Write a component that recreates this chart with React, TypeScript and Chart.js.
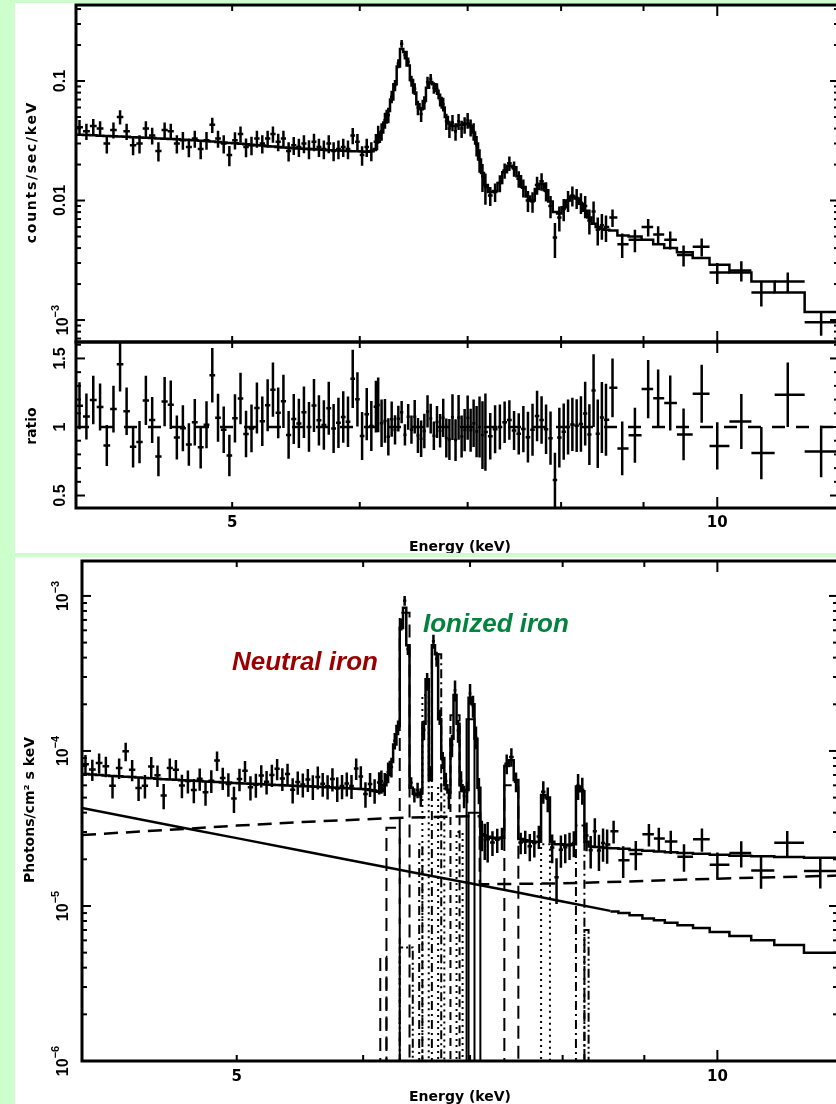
import React, { useEffect, useRef } from "react";
import { Chart, registerables } from "chart.js";

Chart.register(...registerables);

// ---------------- data ----------------
const X_MIN = 4.0;
const X_MAX = 11.9;

// bin centres (keV), shared by the three panels
const energy = [
  4.02, 4.06, 4.10, 4.14, 4.18, 4.22, 4.26, 4.30, 4.34, 4.38,
  4.42, 4.46, 4.50, 4.54, 4.58, 4.62, 4.66, 4.70, 4.74, 4.78,
  4.82, 4.86, 4.90, 4.94, 4.98, 5.02, 5.06, 5.10, 5.14, 5.18,
  5.22, 5.26, 5.30, 5.34, 5.38, 5.42, 5.46, 5.50, 5.54, 5.58,
  5.62, 5.66, 5.70, 5.74, 5.78, 5.82, 5.86, 5.90, 5.94, 5.98,
  6.02, 6.06, 6.10, 6.14,
  6.16, 6.19, 6.22, 6.25, 6.28, 6.31, 6.34, 6.37, 6.40, 6.43,
  6.46, 6.49, 6.52, 6.55, 6.58, 6.61, 6.64, 6.67, 6.70, 6.73,
  6.76, 6.79, 6.82, 6.85, 6.88, 6.91, 6.94, 6.97, 7.00, 7.03,
  7.06, 7.09, 7.12, 7.15, 7.18,
  7.23, 7.28, 7.33, 7.38, 7.43, 7.48, 7.53, 7.58, 7.63, 7.68,
  7.73, 7.78, 7.83, 7.88, 7.93, 7.98, 8.03, 8.08, 8.13, 8.18,
  8.23, 8.28, 8.33, 8.38, 8.43, 8.48, 8.53,
  8.61, 8.73, 8.89, 9.06, 9.19, 9.35, 9.53, 9.78, 10.0, 10.35,
  10.65, 11.06, 11.6,
];

// counts/sec/keV
const counts = [
  0.041, 0.038, 0.042, 0.040, 0.030, 0.039, 0.050, 0.038, 0.029, 0.030,
  0.040, 0.035, 0.026, 0.039, 0.038, 0.030, 0.032, 0.028, 0.033, 0.027,
  0.032, 0.043, 0.033, 0.030, 0.024, 0.032, 0.036, 0.028, 0.029, 0.033,
  0.030, 0.033, 0.036, 0.031, 0.033, 0.026, 0.029, 0.028, 0.030, 0.027,
  0.031, 0.028, 0.027, 0.030, 0.026, 0.027, 0.028, 0.027, 0.035, 0.031,
  0.024, 0.028, 0.026, 0.031,
  0.036, 0.038, 0.047, 0.052, 0.074, 0.092, 0.140, 0.205, 0.165, 0.145,
  0.100, 0.086, 0.060, 0.053, 0.066, 0.098, 0.104, 0.088, 0.086, 0.070,
  0.064, 0.046, 0.040, 0.045, 0.038, 0.046, 0.040, 0.043, 0.047, 0.041,
  0.038, 0.029, 0.022, 0.016, 0.013,
  0.0110, 0.0118, 0.0140, 0.0178, 0.0205, 0.0185, 0.0152, 0.0128, 0.0100, 0.0098,
  0.0135, 0.0145, 0.0120, 0.0090, 0.0049, 0.0072, 0.0085, 0.0100, 0.0110, 0.0105,
  0.0096, 0.0090, 0.0068, 0.0081, 0.0057, 0.0062, 0.0060,
  0.0072, 0.0043, 0.0047, 0.0060, 0.0052, 0.0047, 0.0035, 0.0041, 0.0025, 0.0026,
  0.0017, 0.0021, 0.00096,
];

const countsErr = [
  0.0061, 0.0059, 0.0062, 0.0060, 0.0052, 0.0059, 0.0068, 0.0059, 0.0051, 0.0052,
  0.0060, 0.0056, 0.0048, 0.0059, 0.0058, 0.0052, 0.0054, 0.0050, 0.0054, 0.0049,
  0.0054, 0.0062, 0.0054, 0.0052, 0.0046, 0.0053, 0.0056, 0.0050, 0.0051, 0.0054,
  0.0052, 0.0054, 0.0056, 0.0052, 0.0054, 0.0048, 0.0050, 0.0049, 0.0051, 0.0049,
  0.0052, 0.0049, 0.0048, 0.0051, 0.0047, 0.0048, 0.0049, 0.0048, 0.0055, 0.0051,
  0.0045, 0.0049, 0.0047, 0.0051,
  0.0062, 0.0064, 0.0072, 0.0076, 0.0090, 0.0100, 0.0124, 0.0150, 0.0135, 0.0126,
  0.0105, 0.0098, 0.0082, 0.0077, 0.0086, 0.0104, 0.0107, 0.0098, 0.0097, 0.0088,
  0.0084, 0.0071, 0.0066, 0.0070, 0.0064, 0.0070, 0.0066, 0.0068, 0.0071, 0.0066,
  0.0064, 0.0056, 0.0049, 0.0042, 0.0038,
  0.0020, 0.0021, 0.0023, 0.0026, 0.0028, 0.0027, 0.0024, 0.0022, 0.0020, 0.0019,
  0.0023, 0.0024, 0.0022, 0.0019, 0.0016, 0.0017, 0.0018, 0.0020, 0.0021, 0.0020,
  0.0019, 0.0019, 0.0016, 0.0017, 0.0015, 0.0015, 0.0015,
  0.0012, 0.0010, 0.0010, 0.0010, 0.0009, 0.0008, 0.0007, 0.0007, 0.0005, 0.0005,
  0.0004, 0.0004, 0.00022,
];

// folded model, counts/sec/keV
const countsModel = [
  0.0355, 0.0353, 0.0351, 0.0349, 0.0347, 0.0345, 0.0343, 0.0341, 0.0339, 0.0337,
  0.0335, 0.0333, 0.0331, 0.0329, 0.0327, 0.0325, 0.0323, 0.0321, 0.0319, 0.0317,
  0.0315, 0.0312, 0.0309, 0.0306, 0.0303, 0.0301, 0.0298, 0.0295, 0.0293, 0.0290,
  0.0288, 0.0285, 0.0283, 0.0281, 0.0278, 0.0276, 0.0274, 0.0273, 0.0271, 0.0270,
  0.0268, 0.0267, 0.0266, 0.0264, 0.0263, 0.0262, 0.0261, 0.0260, 0.0259, 0.0258,
  0.0257, 0.0256, 0.0258, 0.0270,
  0.031, 0.037, 0.045, 0.056, 0.070, 0.094, 0.132, 0.185, 0.175, 0.135,
  0.102, 0.080, 0.064, 0.058, 0.068, 0.088, 0.098, 0.094, 0.083, 0.072,
  0.060, 0.050, 0.044, 0.042, 0.042, 0.043, 0.043, 0.044, 0.044, 0.042,
  0.037, 0.030, 0.022, 0.017, 0.0135,
  0.0118, 0.0120, 0.0140, 0.0172, 0.0195, 0.0190, 0.0160, 0.0130, 0.0108, 0.0100,
  0.0125, 0.0138, 0.0122, 0.0098, 0.0080, 0.0078, 0.0088, 0.0100, 0.0108, 0.0104,
  0.0094, 0.0082, 0.0072, 0.0064, 0.0060, 0.0058, 0.0057,
  0.0056, 0.0051, 0.0050, 0.0047, 0.0043, 0.0040, 0.0037, 0.0033, 0.0029, 0.0025,
  0.0021, 0.0017, 0.00117,
];

// unfolded total model, in units of 1e-5 photons/cm^2/s/keV
const unfoldedModelE5 = [
  7.10, 7.05, 7.00, 6.95, 6.90, 6.86, 6.82, 6.78, 6.74, 6.70,
  6.66, 6.62, 6.58, 6.55, 6.52, 6.48, 6.45, 6.42, 6.39, 6.36,
  6.33, 6.30, 6.27, 6.25, 6.22, 6.20, 6.17, 6.15, 6.12, 6.10,
  6.08, 6.05, 6.03, 6.01, 5.99, 5.97, 5.95, 5.93, 5.91, 5.89,
  5.87, 5.85, 5.83, 5.81, 5.79, 5.77, 5.75, 5.73, 5.71, 5.69,
  5.66, 5.60, 5.52, 5.45,
  5.5, 6.0, 7.0, 8.5, 11, 14.5, 62, 84, 48, 5.8,
  5.3, 5.2, 5.4, 15, 29, 6.5, 48, 42, 16, 9.0,
  6.0, 5.4, 12, 23, 15, 6.0, 5.5, 5.6, 22, 20,
  12, 5.8, 2.9, 2.85, 2.8,
  2.75, 2.72, 2.75, 8.0, 8.7, 6.5, 2.70, 2.65, 2.62, 2.60,
  2.60, 5.2, 5.0, 2.60, 2.50, 2.50, 2.48, 2.47, 2.50, 5.9,
  5.5, 2.6, 2.42, 2.40, 2.40, 2.38, 2.37,
  2.36, 2.34, 2.30, 2.27, 2.25, 2.22, 2.20, 2.17, 2.14, 2.11,
  2.09, 2.07, 2.05,
];

// power-law continuum (solid)
const powerLawE = [4.0, 4.66, 5.0, 5.5, 6.0, 6.5, 7.0, 7.5, 8.0, 8.57];
const powerLawV = [4.28e-5, 3.15e-5, 2.74e-5, 2.26e-5, 1.90e-5, 1.62e-5, 1.40e-5, 1.22e-5, 1.07e-5, 9.3e-6];
const powerLawTail = [9.2e-6, 9.0e-6, 8.7e-6, 8.3e-6, 8.1e-6, 7.8e-6, 7.5e-6, 7.2e-6, 6.8e-6, 6.4e-6, 6.0e-6, 5.6e-6, 5.0e-6];

// reflection continuum (dashed)
const reflE = [4.0, 4.66, 5.0, 5.5, 6.0, 6.4, 7.1, 7.1, 8.0, 9.0, 10.0, 11.9];
const reflV = [2.87e-5, 3.15e-5, 3.30e-5, 3.48e-5, 3.62e-5, 3.72e-5, 3.80e-5, 1.38e-5, 1.40e-5, 1.45e-5, 1.50e-5, 1.57e-5];

// emission-line components
const lineLo = [6.150, 6.205, 6.325, 6.325, 6.505, 6.535, 6.625, 6.685, 6.805, 6.865, 6.965, 6.985, 7.355, 7.755, 8.155, 8.255];
const lineHi = [6.205, 6.325, 6.415, 6.445, 6.535, 6.595, 6.715, 6.745, 6.895, 6.925, 7.045, 7.105, 7.505, 7.855, 8.255, 8.305];
const linePeak = [4.7e-6, 3.2e-5, 7.8e-4, 5.4e-6, 2.5e-5, 2.3e-4, 4.2e-4, 6.0e-5, 1.7e-4, 3.0e-5, 1.6e-4, 4.0e-5, 6.0e-5, 2.5e-5, 3.3e-5, 7.0e-6];
const lineStyle = ["longdash", "longdash", "longdash", "dashdotdot", "dashdot", "dot", "dashdot", "dot", "dash", "dot", "solid", "solid", "longdash", "dot", "dashdot", "dashdotdot"];

// ticks
const xMajorTicks = [10];
const xMinorTicks = [5, 6, 7, 8, 9];
const xLabelValues = [5, 10];
const xTickLabels = ["5", "10"];
const countsMajor = [0.001, 0.01, 0.1];
const countsMinor = [7e-4, 8e-4, 9e-4, 0.002, 0.003, 0.004, 0.005, 0.006, 0.007, 0.008, 0.009, 0.02, 0.03, 0.04, 0.05, 0.06, 0.07, 0.08, 0.09, 0.2, 0.3, 0.4];
const ratioMajor = [0.5, 1, 1.5];
const ratioMinor = [0.6, 0.7, 0.8, 0.9, 1.1, 1.2, 1.3, 1.4, 1.6];
const photMajor = [1e-6, 1e-5, 1e-4, 1e-3];
const photMinor = [2e-6, 3e-6, 4e-6, 5e-6, 6e-6, 7e-6, 8e-6, 9e-6, 2e-5, 3e-5, 4e-5, 5e-5, 6e-5, 7e-5, 8e-5, 9e-5, 2e-4, 3e-4, 4e-4, 5e-4, 6e-4, 7e-4, 8e-4, 9e-4];

// ---------------- helpers ----------------
const DASH: Record<string, number[]> = {
  longdash: [13, 7],
  dash: [8, 5],
  dot: [2, 4],
  dashdot: [9, 4, 2, 4],
  dashdotdot: [9, 3, 2, 3, 2, 3],
  solid: [],
};
const FLOOR = 1e-8;

function edgesOf(E: number[], lo: number, hi: number) {
  const out = [lo];
  for (let i = 0; i < E.length - 1; i++) out.push((E[i] + E[i + 1]) / 2);
  out.push(hi);
  return out;
}
function stepPts(edges: number[], vals: number[]) {
  const pts: any[] = [];
  vals.forEach((v, i) => {
    pts.push({ x: edges[i], y: v }, { x: edges[i + 1], y: v });
  });
  return pts;
}
function crossPts(E: number[], edges: number[], v: number[], e: number[]) {
  const pts: any[] = [];
  for (let i = 0; i < E.length; i++) {
    pts.push({ x: edges[i], y: v[i] }, { x: edges[i + 1], y: v[i] }, { x: E[i], y: null });
    pts.push({ x: E[i], y: v[i] - e[i] }, { x: E[i], y: v[i] + e[i] }, { x: E[i], y: null });
  }
  return pts;
}
function ds(data: any[], width = 2.5, dash: number[] = []) {
  return {
    data,
    borderColor: "#000",
    backgroundColor: "#000",
    borderWidth: width,
    borderDash: dash,
    pointRadius: 0,
    pointHoverRadius: 0,
    fill: false,
    tension: 0,
    spanGaps: false,
  };
}

const TICK_FONT_Y = "bold 16px 'Liberation Sans'";
const EXP_FONT = "bold 11px 'Liberation Sans'";
const TICK_FONT_X = "bold 15px 'DejaVu Sans'";
const TITLE_FONT = "bold 14px 'DejaVu Sans'";
const NOTE_FONT = "italic bold 26px 'Liberation Sans'";

type YLab = { v: number; base: string; exp?: string };
type TextItem = {
  t: string; x: number; y: number; font: string; color?: string;
  rotate?: boolean; spacing?: string; align?: CanvasTextAlign; baseline?: CanvasTextBaseline;
};
type Decor = {
  yMajor: number[]; yMinor: number[];
  yLabels: YLab[]; yLabelX: number;
  xLabelY?: number;
  texts: TextItem[];
};

function drawYLabel(ctx: any, x: number, y: number, base: string, exp?: string) {
  ctx.save();
  ctx.translate(x, y);
  ctx.rotate(-Math.PI / 2);
  ctx.textBaseline = "middle";
  ctx.textAlign = "left";
  ctx.font = TICK_FONT_Y;
  const w1 = ctx.measureText(base).width;
  let w2 = 0;
  if (exp) {
    ctx.font = EXP_FONT;
    w2 = ctx.measureText(exp).width;
  }
  const start = -(w1 + w2) / 2;
  ctx.font = TICK_FONT_Y;
  ctx.fillText(base, start, 0);
  if (exp) {
    ctx.font = EXP_FONT;
    ctx.fillText(exp, start + w1, -8);
  }
  ctx.restore();
}

function drawText(ctx: any, t: TextItem) {
  ctx.save();
  ctx.font = t.font;
  ctx.fillStyle = t.color || "#000";
  ctx.letterSpacing = t.spacing || "0px";
  ctx.textAlign = t.align || "center";
  ctx.textBaseline = t.baseline || "middle";
  ctx.translate(t.x, t.y);
  if (t.rotate) ctx.rotate(-Math.PI / 2);
  ctx.fillText(t.t, 0, 0);
  ctx.restore();
}

function decorPlugin(d: Decor) {
  return {
    id: "decor",
    afterDraw(chart: any) {
      const ctx = chart.ctx;
      const a = chart.chartArea;
      const xs = chart.scales.x;
      const ys = chart.scales.y;
      ctx.save();
      ctx.strokeStyle = "#000";
      ctx.fillStyle = "#000";
      ctx.setLineDash([]);
      ctx.lineCap = "butt";
      ctx.lineWidth = 2;
      const seg = (x1: number, y1: number, x2: number, y2: number) => {
        ctx.beginPath();
        ctx.moveTo(x1, y1);
        ctx.lineTo(x2, y2);
        ctx.stroke();
      };
      const xt = (vals: number[], len: number) =>
        vals.forEach((v) => {
          const p = xs.getPixelForValue(v);
          seg(p, a.bottom, p, a.bottom - len);
          seg(p, a.top, p, a.top + len);
        });
      const yt = (vals: number[], len: number) =>
        vals.forEach((v) => {
          const p = ys.getPixelForValue(v);
          seg(a.left, p, a.left + len, p);
          seg(a.right, p, a.right - len, p);
        });
      xt(xMinorTicks, 6);
      xt(xMajorTicks, 11);
      yt(d.yMinor, 5);
      yt(d.yMajor, 9);
      ctx.lineWidth = 3;
      ctx.strokeRect(a.left, a.top, a.right - a.left, a.bottom - a.top);
      d.yLabels.forEach((l) =>
        drawYLabel(ctx, d.yLabelX + (l.exp ? 3 : 0), ys.getPixelForValue(l.v), l.base, l.exp)
      );
      if (d.xLabelY !== undefined) {
        ctx.font = TICK_FONT_X;
        ctx.textAlign = "center";
        ctx.textBaseline = "middle";
        xLabelValues.forEach((v, i) => ctx.fillText(xTickLabels[i], xs.getPixelForValue(v), d.xLabelY));
      }
      d.texts.forEach((t) => drawText(ctx, t));
      ctx.restore();
    },
  };
}

function baseOptions(yType: string, ymin: number, ymax: number, padding: any) {
  return {
    responsive: false,
    animation: false,
    devicePixelRatio: 1,
    events: [],
    layout: { padding },
    plugins: { legend: { display: false }, tooltip: { enabled: false }, title: { display: false } },
    scales: {
      x: { type: "logarithmic", min: X_MIN, max: X_MAX, display: false },
      y: { type: yType, min: ymin, max: ymax, display: false },
    },
  };
}

const edges = edgesOf(energy, X_MIN, X_MAX);

function buildCounts(): any {
  return {
    type: "line",
    data: {
      datasets: [
        ds(crossPts(energy, edges, counts, countsErr), 2.5),
        ds(stepPts(edges, countsModel), 2.5),
      ],
    },
    options: baseOptions("logarithmic", 6.55e-4, 0.4325, { left: 61, top: 2, right: 6, bottom: 211 }),
    plugins: [
      decorPlugin({
        yMajor: countsMajor,
        yMinor: countsMinor,
        yLabelX: 46,
        yLabels: [
          { v: 0.1, base: "0.1" },
          { v: 0.01, base: "0.01" },
          { v: 0.001, base: "10", exp: "\u22123" },
        ],
        texts: [{ t: "counts/sec/keV", x: 17.5, y: 169, font: TITLE_FONT, rotate: true, spacing: "1.7px" }],
      }),
    ],
  };
}

function buildRatio(): any {
  const ratio = counts.map((c, i) => c / countsModel[i]);
  const ratioErr = countsErr.map((e, i) => e / countsModel[i]);
  return {
    type: "line",
    data: {
      datasets: [
        ds(crossPts(energy, edges, ratio, ratioErr), 2.5),
        ds([{ x: X_MIN, y: 1 }, { x: X_MAX, y: 1 }], 2.5, [13, 11]),
      ],
    },
    options: baseOptions("linear", 0.409, 1.62, { left: 61, top: 339, right: 6, bottom: 45 }),
    plugins: [
      decorPlugin({
        yMajor: ratioMajor,
        yMinor: ratioMinor,
        yLabelX: 46,
        yLabels: [
          { v: 1.5, base: "1.5" },
          { v: 1, base: "1" },
          { v: 0.5, base: "0.5" },
        ],
        xLabelY: 520,
        texts: [
          { t: "ratio", x: 17, y: 423, font: TITLE_FONT, rotate: true },
          { t: "Energy (keV)", x: 445, y: 544, font: TITLE_FONT },
        ],
      }),
    ],
  };
}

function buildPhotons(): any {
  const model = unfoldedModelE5.map((v) => v * 1e-5);
  const data = counts.map((c, i) => (c * model[i]) / countsModel[i]);
  const err = countsErr.map((e, i) => (e * model[i]) / countsModel[i]);
  const lineSets = lineLo.map((lo, i) =>
    ds(
      [
        { x: lo, y: FLOOR },
        { x: lo, y: linePeak[i] },
        { x: lineHi[i], y: linePeak[i] },
        { x: lineHi[i], y: FLOOR },
      ],
      2,
      DASH[lineStyle[i]]
    )
  );
  return {
    type: "line",
    data: {
      datasets: [
        ds(crossPts(energy, edges, data, err), 2.5),
        ds(stepPts(edges, model), 2.5),
        ds(powerLawE.map((x, i) => ({ x, y: powerLawV[i] })), 2.5),
        ds(stepPts(edges.slice(116), powerLawTail), 2.5),
        ds(reflE.map((x, i) => ({ x, y: reflV[i] })), 2.5, [14, 8]),
        ...lineSets,
      ],
    },
    options: baseOptions("logarithmic", 1e-6, 1.68e-3, { left: 67, top: 4, right: 7, bottom: 43 }),
    plugins: [
      decorPlugin({
        yMajor: photMajor,
        yMinor: photMinor,
        yLabelX: 46,
        yLabels: [
          { v: 1e-3, base: "10", exp: "\u22123" },
          { v: 1e-4, base: "10", exp: "\u22124" },
          { v: 1e-5, base: "10", exp: "\u22125" },
          { v: 1e-6, base: "10", exp: "\u22126" },
        ],
        xLabelY: 520,
        texts: [
          { t: "Photons/cm\u00b2 s keV", x: 15, y: 253, font: TITLE_FONT, rotate: true },
          { t: "Energy (keV)", x: 445, y: 540, font: TITLE_FONT },
          { t: "Neutral iron", x: 217, y: 113, font: NOTE_FONT, color: "#9b0000", align: "left", baseline: "alphabetic" },
          { t: "Ionized iron", x: 408, y: 75, font: NOTE_FONT, color: "#00843d", align: "left", baseline: "alphabetic" },
        ],
      }),
    ],
  };
}

function ChartCanvas(props: { build: () => any; left: number; top: number; width: number; height: number }) {
  const ref = useRef<HTMLCanvasElement>(null);
  useEffect(() => {
    const chart = new Chart(ref.current as HTMLCanvasElement, props.build());
    return () => chart.destroy();
  }, []);
  return (
    <canvas
      ref={ref}
      width={props.width}
      height={props.height}
      style={{ position: "absolute", left: props.left, top: props.top, width: props.width, height: props.height }}
    />
  );
}

export default function App() {
  return (
    <div
      style={{
        position: "absolute",
        left: 0,
        top: 0,
        width: 836,
        height: 1104,
        overflow: "hidden",
        background: "#ccffcc",
      }}
    >
      <div style={{ position: "absolute", left: 15, top: 3, width: 821, height: 550, background: "#ffffff" }} />
      <div style={{ position: "absolute", left: 15, top: 557, width: 821, height: 547, background: "#ffffff" }} />
      <ChartCanvas build={buildCounts} left={15} top={3} width={830} height={550} />
      <ChartCanvas build={buildRatio} left={15} top={3} width={830} height={550} />
      <ChartCanvas build={buildPhotons} left={15} top={557} width={830} height={547} />
    </div>
  );
}
